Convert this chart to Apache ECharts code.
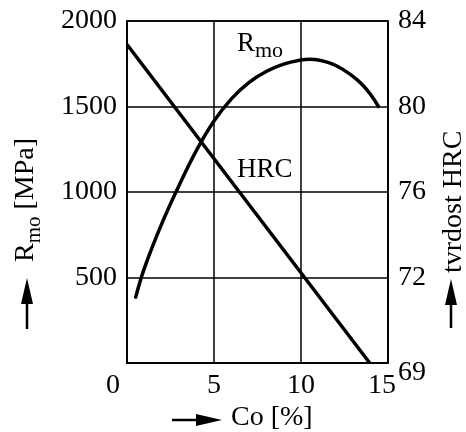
<!DOCTYPE html>
<html><head><meta charset="utf-8">
<script src="https://cdn.jsdelivr.net/npm/echarts@6/dist/echarts.min.js"></script>
<style>html,body{margin:0;padding:0;background:#fff}#c{width:466px;height:432px}</style>
</head><body><div id="c"></div>
<script>
// Data
const coTicks = [0, 5, 10, 15];
const mpaTicks = [0, 500, 1000, 1500, 2000];
const hrcTickLabels = ['69', '72', '76', '80', '84'];
const rmoCo  = [0.5, 1, 2, 3, 4, 5, 6, 7, 8, 9, 10, 10.5, 11, 12, 13, 13.5, 14, 14.45];
const rmoMpa = [385, 555, 815, 1040, 1245, 1415, 1545, 1640, 1705, 1748, 1772, 1776, 1772, 1740, 1675, 1630, 1570, 1500];
const hrcCo  = [0, 13.95];
const hrcVal = [82.9, 68];

const FONT = 'Liberation Serif';
const FS = 28;
const chart = echarts.init(document.getElementById('c'));
const hrcMin = 68, hrcStep = 4;

chart.setOption({
  animation: false,
  backgroundColor: '#fff',
  grid: { left: 127, right: 78, top: 21, bottom: 69, show: true, borderColor: '#000', borderWidth: 1.5, backgroundColor: 'transparent' },
  xAxis: {
    type: 'value', min: coTicks[0], max: coTicks[coTicks.length - 1], interval: coTicks[1] - coTicks[0],
    axisLine: { show: true, lineStyle: { color: '#000', width: 1.5 } },
    axisTick: { show: false },
    splitLine: { show: true, lineStyle: { color: '#000', width: 1.5 } },
    axisLabel: {
      margin: 9, color: '#000', fontFamily: FONT, fontSize: FS,
      formatter: v => v === coTicks[0] ? '{z|' + v + '}' : (v === coTicks[coTicks.length - 1] ? '{e|' + v + '}' : String(v)),
      rich: {
        z: { fontFamily: FONT, fontSize: FS, color: '#000', padding: [0, 28, 0, 0] },
        e: { fontFamily: FONT, fontSize: FS, color: '#000', padding: [0, 12, 0, 0] }
      }
    }
  },
  yAxis: [
    {
      type: 'value', min: mpaTicks[0], max: mpaTicks[mpaTicks.length - 1], interval: mpaTicks[1] - mpaTicks[0],
      axisLine: { show: true, lineStyle: { color: '#000', width: 1.5 } },
      axisTick: { show: false },
      splitLine: { show: true, lineStyle: { color: '#000', width: 1.5 } },
      axisLabel: { margin: 10, color: '#000', fontFamily: FONT, fontSize: FS, formatter: v => v === 0 ? '' : String(v) }
    },
    {
      type: 'value', position: 'right', min: hrcMin, max: hrcMin + hrcStep * (hrcTickLabels.length - 1), interval: hrcStep,
      axisLine: { show: true, lineStyle: { color: '#000', width: 1.5 } },
      axisTick: { show: false },
      splitLine: { show: false },
      axisLabel: {
        margin: 10, color: '#000', fontFamily: FONT, fontSize: FS,
        formatter: v => {
          const i = Math.round((v - hrcMin) / hrcStep);
          return i === 0 ? '{b|' + hrcTickLabels[i] + '}' : hrcTickLabels[i];
        },
        rich: { b: { fontFamily: FONT, fontSize: FS, color: '#000', padding: [20, 0, 0, 0] } }
      }
    }
  ],
  series: [
    {
      name: 'Rmo', type: 'line', yAxisIndex: 0, smooth: 0.4, showSymbol: false,
      lineStyle: { color: '#000', width: 3.5, cap: 'round' },
      data: rmoCo.map((c, i) => [c, rmoMpa[i]])
    },
    {
      name: 'HRC', type: 'line', yAxisIndex: 1, showSymbol: false,
      lineStyle: { color: '#000', width: 3.5 },
      data: hrcCo.map((c, i) => [c, hrcVal[i]])
    }
  ],
  graphic: [
    // curve annotations
    { type: 'text', left: 237, top: 30, style: { text: '{r|R}{s|mo}', rich: {
        r: { fontFamily: FONT, fontSize: 27, fill: '#000', verticalAlign: 'bottom' },
        s: { fontFamily: FONT, fontSize: 22, fill: '#000', padding: [0, 0, -5, 0], verticalAlign: 'bottom' } } } },
    { type: 'text', left: 237, top: 156, style: { text: 'HRC', fontFamily: FONT, fontSize: 27, fill: '#000' } },
    // left axis title
    { type: 'group', x: 26, y: 262, rotation: Math.PI / 2, children: [
      { type: 'text', x: 0, y: 0, style: { text: '{r|R}{s|mo}{n| [MPa]}', textAlign: 'left', textVerticalAlign: 'middle', rich: {
        r: { fontFamily: FONT, fontSize: FS, fill: '#000', verticalAlign: 'bottom' },
        s: { fontFamily: FONT, fontSize: 21, fill: '#000', padding: [0, 0, -5, 0], verticalAlign: 'bottom' },
        n: { fontFamily: FONT, fontSize: FS, fill: '#000', verticalAlign: 'bottom' } } } }
    ] },
    { type: 'line', shape: { x1: 27, y1: 329, x2: 27, y2: 300 }, style: { stroke: '#000', lineWidth: 2.5 } },
    { type: 'polygon', shape: { points: [[27, 278], [21, 304], [33, 304]] }, style: { fill: '#000' } },
    // right axis title
    { type: 'group', x: 454, y: 273, rotation: Math.PI / 2, children: [
      { type: 'text', x: 0, y: 0, style: { text: 'tvrdost HRC', textAlign: 'left', textVerticalAlign: 'middle', fontFamily: FONT, fontSize: FS, fill: '#000' } }
    ] },
    { type: 'line', shape: { x1: 451, y1: 328, x2: 451, y2: 300 }, style: { stroke: '#000', lineWidth: 2.5 } },
    { type: 'polygon', shape: { points: [[451, 279], [445, 305], [457, 305]] }, style: { fill: '#000' } },
    // x axis title
    { type: 'line', shape: { x1: 172, y1: 420, x2: 200, y2: 420 }, style: { stroke: '#000', lineWidth: 2.5 } },
    { type: 'polygon', shape: { points: [[222, 420], [196, 414], [196, 426]] }, style: { fill: '#000' } },
    { type: 'text', left: 231, top: 404, style: { text: 'Co [%]', fontFamily: FONT, fontSize: FS, fill: '#000' } }
  ]
});
</script>
</body></html>
